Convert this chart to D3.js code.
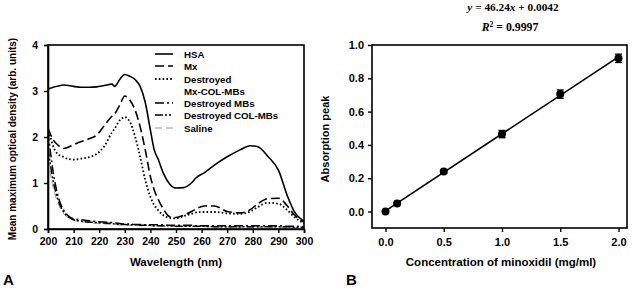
<!DOCTYPE html>
<html><head><meta charset="utf-8">
<script src="https://cdn.jsdelivr.net/npm/d3@7"></script>
<style>
body{margin:0;background:#fff;}
text{font-family:"Liberation Sans",Arial,sans-serif;font-weight:bold;fill:#000;}
</style></head>
<body><svg id="c" width="634" height="292"></svg>
<script>
// ---- Panel A data (wavelength in nm, optical density) ----
const wavelengths = [200,202,204,206,208,210,213,216,219,222,225,226,228,230,232,234,236,238,240,241.5,243,245,247.5,250,253,256,258,261,265,270,275,279,282,286,290,293.5,296,300];
const hsa   = [3.04,3.08,3.11,3.13,3.12,3.10,3.08,3.08,3.09,3.12,3.15,3.10,3.25,3.36,3.32,3.25,3.10,2.75,2.15,1.72,1.52,1.22,0.98,0.89,0.90,1.0,1.12,1.22,1.39,1.57,1.72,1.81,1.79,1.57,1.28,0.72,0.40,0.17];
const mx    = [2.19,1.94,1.82,1.75,1.78,1.83,1.90,1.96,2.04,2.25,2.45,2.50,2.69,2.89,2.80,2.59,2.22,1.72,1.14,0.85,0.65,0.44,0.27,0.25,0.30,0.38,0.44,0.50,0.50,0.38,0.35,0.42,0.55,0.66,0.67,0.50,0.32,0.15];
const destroyedMxCol = [2.22,1.80,1.62,1.57,1.52,1.51,1.53,1.56,1.63,1.80,2.10,2.18,2.36,2.43,2.33,2.01,1.57,1.06,0.70,0.52,0.41,0.30,0.24,0.23,0.28,0.33,0.36,0.37,0.37,0.34,0.33,0.38,0.48,0.57,0.55,0.41,0.27,0.12];
const destroyedMBs    = [2.12,1.25,0.70,0.42,0.28,0.22,0.20,0.18,0.16,0.15,0.14,0.13,0.12,0.11,0.11,0.10,0.10,0.09,0.09,0.09,0.09,0.09,0.08,0.08,0.08,0.08,0.07,0.07,0.07,0.07,0.07,0.07,0.07,0.07,0.07,0.06,0.06,0.05];
const destroyedColMBs = [1.75,1.05,0.62,0.38,0.26,0.20,0.17,0.15,0.14,0.13,0.12,0.11,0.10,0.10,0.09,0.09,0.08,0.08,0.08,0.07,0.07,0.07,0.07,0.06,0.06,0.06,0.06,0.06,0.05,0.05,0.05,0.05,0.05,0.05,0.05,0.05,0.04,0.04];
const saline          = [1.50,0.90,0.55,0.34,0.24,0.19,0.16,0.14,0.12,0.11,0.10,0.10,0.09,0.09,0.08,0.08,0.07,0.07,0.07,0.06,0.06,0.06,0.06,0.05,0.05,0.05,0.05,0.05,0.04,0.04,0.04,0.04,0.04,0.04,0.04,0.03,0.03,0.03];
const seriesNames = ["HSA","Mx","Destroyed|Mx-COL-MBs","Destroyed MBs","Destroyed COL-MBs","Saline"];
const xTicksA = [200,210,220,230,240,250,260,270,280,290,300];
const yTicksA = [0,1,2,3,4];

// ---- Panel B data ----
const concentration = [0,0.1,0.5,1.0,1.5,2.0];
const absorption    = [0.0,0.048,0.24,0.465,0.705,0.92];
const absError      = [0.005,0.006,0.008,0.022,0.025,0.025];
const fitSlope = 0.4624, fitIntercept = 0.0042;
const xTicksB = [0.0,0.5,1.0,1.5,2.0];
const yTicksB = [0.0,0.2,0.4,0.6,0.8,1.0];

const svg = d3.select("#c");

// ================= Panel A =================
const xA = d3.scaleLinear().domain([200,300]).range([48,304]);
const yA = d3.scaleLinear().domain([0,4]).range([229,45]);
const gA = svg.append("g");

const allSeries = [hsa,mx,destroyedMxCol,destroyedMBs,destroyedColMBs,saline];
const styles = [
  {dash:null,w:1.6,c:"#000"},
  {dash:"9,4",w:1.6,c:"#000"},
  {dash:"1.6,2.2",w:1.8,c:"#000"},
  {dash:"9,3,2,3",w:1.5,c:"#000"},
  {dash:"8,2,2,2,2,2",w:1.5,c:"#000"},
  {dash:"7,4",w:1,c:"#999"}
];
svg.append("clipPath").attr("id","clipA").append("rect")
  .attr("x",48).attr("y",45).attr("width",256).attr("height",184);
const line = d3.line().x((d,i)=>xA(wavelengths[i])).y(d=>yA(d)).curve(d3.curveMonotoneX);
[5,4,3,2,1,0].forEach(k=>{
  gA.append("path").datum(allSeries[k]).attr("d",line)
    .attr("fill","none").attr("stroke",styles[k].c).attr("stroke-width",styles[k].w)
    .attr("stroke-dasharray",styles[k].dash).attr("clip-path","url(#clipA)");
});

gA.append("rect").attr("x",48).attr("y",45).attr("width",256).attr("height",184)
  .attr("fill","none").attr("stroke","#000").attr("stroke-width",1.6);

const axA = gA.append("g").attr("transform","translate(0,229)")
  .call(d3.axisBottom(xA).tickValues(xTicksA).tickSize(4).tickPadding(5));
const ayA = gA.append("g").attr("transform","translate(48,0)")
  .call(d3.axisLeft(yA).tickValues(yTicksA).tickFormat(d3.format("d")).tickSize(4).tickPadding(6));
[axA,ayA].forEach(a=>{
  a.select(".domain").attr("stroke","#000").attr("stroke-width",1.6);
  a.selectAll(".tick line").attr("stroke","#000").attr("stroke-width",1.4);
  a.selectAll(".tick text").style("font-size","10.5px").style("font-family","Liberation Sans, Arial, sans-serif").style("font-weight","bold").attr("fill","#000");
});

gA.append("text").attr("x",176).attr("y",266).attr("text-anchor","middle").style("font-size","11.5px").text("Wavelength (nm)");
gA.append("text").attr("transform","translate(16,139) rotate(-90)").attr("text-anchor","middle").style("font-size","10px").text("Mean maximum optical density (arb. units)");
gA.append("text").attr("x",3).attr("y",285).style("font-size","15px").text("A");

const legRows = [54,66,79,103,115,128];
seriesNames.forEach((nm,k)=>{
  const y = legRows[k];
  gA.append("line").attr("x1",155).attr("x2",173).attr("y1",y).attr("y2",y)
    .attr("stroke",styles[k].c).attr("stroke-width",styles[k].w).attr("stroke-dasharray",styles[k].dash);
  nm.split("|").forEach((p,j)=>{
    gA.append("text").attr("x",184).attr("y",y+3.5+j*12).style("font-size","9.7px").text(p);
  });
});

// ================= Panel B =================
const xB = d3.scaleLinear().domain([0,2]).range([385.5,618.5]);
const yB = d3.scaleLinear().domain([0,1]).range([211.5,45]);
const gB = svg.append("g");
const bx0 = 372, bx1 = 627, by0 = 45, by1 = 228;

gB.append("rect").attr("x",bx0).attr("y",by0).attr("width",bx1-bx0).attr("height",by1-by0)
  .attr("fill","none").attr("stroke","#000").attr("stroke-width",1.6);

const axB = gB.append("g").attr("transform",`translate(0,${by1})`)
  .call(d3.axisBottom(xB).tickValues(xTicksB).tickFormat(d3.format(".1f")).tickSize(4).tickPadding(6));
const ayB = gB.append("g").attr("transform",`translate(${bx0},0)`)
  .call(d3.axisLeft(yB).tickValues(yTicksB).tickFormat(d3.format(".1f")).tickSize(4).tickPadding(4));
[axB,ayB].forEach(a=>{
  a.select(".domain").remove();
  a.selectAll(".tick line").attr("stroke","#000").attr("stroke-width",1.4);
  a.selectAll(".tick text").style("font-size","11px").style("font-family","Liberation Sans, Arial, sans-serif").style("font-weight","bold").attr("fill","#000");
});

const xFit = [concentration[0], concentration[concentration.length-1]];
gB.append("path").datum(xFit)
  .attr("d",d3.line().x(d=>xB(d)).y(d=>yB(fitSlope*d+fitIntercept)))
  .attr("stroke","#000").attr("stroke-width",1.6).attr("fill","none");

concentration.forEach((c,i)=>{
  const x = xB(c), y1 = yB(absorption[i]-absError[i]), y2 = yB(absorption[i]+absError[i]);
  gB.append("line").attr("x1",x).attr("x2",x).attr("y1",y1).attr("y2",y2).attr("stroke","#000").attr("stroke-width",1.3);
  [y1,y2].forEach(yy=>gB.append("line").attr("x1",x-3.5).attr("x2",x+3.5).attr("y1",yy).attr("y2",yy).attr("stroke","#000").attr("stroke-width",1.3));
});
gB.selectAll("circle.pt").data(concentration).enter().append("circle")
  .attr("cx",d=>xB(d)).attr("cy",(d,i)=>yB(absorption[i])).attr("r",4).attr("fill","#000");

gB.append("text").attr("x",501).attr("y",266).attr("text-anchor","middle").style("font-size","11.5px").text("Concentration of minoxidil (mg/ml)");
gB.append("text").attr("transform","translate(329,139) rotate(-90)").attr("text-anchor","middle").style("font-size","11px").text("Absorption peak");
gB.append("text").attr("x",346).attr("y",285).style("font-size","15px").text("B");

const eq = gB.append("text").attr("x",513).attr("y",11).attr("text-anchor","middle")
  .style("font-family","Liberation Serif, serif").style("font-size","11.3px");
eq.append("tspan").style("font-style","italic").text("y");
eq.append("tspan").text(" = 46.24");
eq.append("tspan").style("font-style","italic").text("x");
eq.append("tspan").text(" + 0.0042");
const r2 = gB.append("text").attr("x",510).attr("y",31).attr("text-anchor","middle")
  .style("font-family","Liberation Serif, serif").style("font-size","11.8px");
r2.append("tspan").style("font-style","italic").text("R");
r2.append("tspan").attr("dy",-4).style("font-size","7.5px").text("2");
r2.append("tspan").attr("dy",4).text(" = 0.9997");
</script></body></html>
